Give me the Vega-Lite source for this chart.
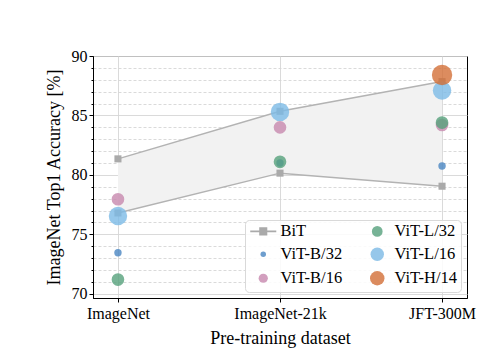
{
  "$schema": "https://vega.github.io/schema/vega-lite/v6.json",
  "width": 374,
  "height": 242,
  "autosize": "none",
  "padding": {"left": 93, "top": 56, "right": 29, "bottom": 64},
  "background": "white",
  "config": {
    "view": {"stroke": "black", "strokeWidth": 1},
    "axis": {
      "domainColor": "black",
      "tickColor": "black",
      "labelColor": "black",
      "labelFont": "Liberation Serif",
      "labelFontSize": 16,
      "titleFont": "Liberation Serif",
      "titleFontSize": 18,
      "titleFontWeight": "normal",
      "titleColor": "black",
      "gridColor": "#d6d6d6",
      "gridWidth": 0.9
    },
    "legend": {
      "labelFont": "Liberation Serif",
      "labelFontSize": 16.5,
      "labelColor": "black"
    }
  },
  "resolve": {"scale": {"color": "independent", "shape": "independent", "size": "independent"}},
  "datasets": {
    "band": [
      {"dataset": "ImageNet", "lo": 76.8, "hi": 81.35},
      {"dataset": "ImageNet-21k", "lo": 80.15, "hi": 85.35},
      {"dataset": "JFT-300M", "lo": 79.05, "hi": 87.85}
    ],
    "bit": [
      {"dataset": "ImageNet", "bound": "upper", "acc": 81.35},
      {"dataset": "ImageNet-21k", "bound": "upper", "acc": 85.35},
      {"dataset": "JFT-300M", "bound": "upper", "acc": 87.85},
      {"dataset": "ImageNet", "bound": "lower", "acc": 76.8},
      {"dataset": "ImageNet-21k", "bound": "lower", "acc": 80.15},
      {"dataset": "JFT-300M", "bound": "lower", "acc": 79.05}
    ],
    "vit": [
      {"dataset": "ImageNet", "model": "ViT-B/32", "acc": 73.45},
      {"dataset": "ImageNet-21k", "model": "ViT-B/32", "acc": 81.0},
      {"dataset": "JFT-300M", "model": "ViT-B/32", "acc": 80.75},
      {"dataset": "ImageNet", "model": "ViT-B/16", "acc": 77.95},
      {"dataset": "ImageNet-21k", "model": "ViT-B/16", "acc": 84.0},
      {"dataset": "JFT-300M", "model": "ViT-B/16", "acc": 84.2},
      {"dataset": "ImageNet", "model": "ViT-L/32", "acc": 71.2},
      {"dataset": "ImageNet-21k", "model": "ViT-L/32", "acc": 81.1},
      {"dataset": "JFT-300M", "model": "ViT-L/32", "acc": 84.4},
      {"dataset": "ImageNet", "model": "ViT-L/16", "acc": 76.55},
      {"dataset": "ImageNet-21k", "model": "ViT-L/16", "acc": 85.3},
      {"dataset": "JFT-300M", "model": "ViT-L/16", "acc": 87.1},
      {"dataset": "JFT-300M", "model": "ViT-H/14", "acc": 88.4}
    ]
  },
  "encoding": {
    "x": {
      "field": "dataset",
      "type": "nominal",
      "sort": null,
      "scale": {"type": "point", "domain": ["ImageNet", "ImageNet-21k", "JFT-300M"], "padding": 0.154},
      "axis": {"labelAngle": 0, "grid": true, "tickSize": 4, "title": "Pre-training dataset", "titlePadding": 8, "labelPadding": 3}
    },
    "y": {
      "field": "acc",
      "type": "quantitative",
      "scale": {"domain": [69.65, 90], "nice": false, "zero": false},
      "axis": {
        "title": "ImageNet Top1 Accuracy [%]",
        "titlePadding": 8,
        "labelFont": "Liberation Serif",
        "titleFont": "Liberation Serif",
        "labelFontSize": 16,
        "titleFontSize": 18,
        "values": [70,71,72,73,74,75,76,77,78,79,80,81,82,83,84,85,86,87,88,89,90],
        "labelExpr": "datum.value % 5 === 0 ? datum.label : ''",
        "grid": true,
        "gridDash": {"condition": {"test": "datum.value % 5 === 0", "value": []}, "value": [3, 2]},
        "tickSize": {"condition": {"test": "datum.value % 5 === 0", "value": 4}, "value": 2}
      }
    }
  },
  "layer": [
    {
      "data": {"name": "band"},
      "mark": {"type": "area", "color": "#f2f2f2", "opacity": 1},
      "encoding": {
        "y": {
          "field": "lo",
          "type": "quantitative",
          "scale": {"domain": [69.65, 90], "nice": false, "zero": false},
          "axis": {
            "title": "ImageNet Top1 Accuracy [%]",
            "titlePadding": 8,
            "labelFont": "Liberation Serif",
            "titleFont": "Liberation Serif",
            "labelFontSize": 16,
            "titleFontSize": 18,
            "values": [70,71,72,73,74,75,76,77,78,79,80,81,82,83,84,85,86,87,88,89,90],
            "labelExpr": "datum.value % 5 === 0 ? datum.label : ''",
            "grid": true,
            "gridDash": {"condition": {"test": "datum.value % 5 === 0", "value": []}, "value": [3, 2]},
            "tickSize": {"condition": {"test": "datum.value % 5 === 0", "value": 4}, "value": 2}
          }
        },
        "y2": {"field": "hi"}
      }
    },
    {
      "data": {"name": "bit"},
      "mark": {"type": "line", "color": "#b3b3b3", "strokeWidth": 1.5},
      "encoding": {
        "detail": {"field": "bound"}
      }
    },
    {
      "data": {"name": "bit"},
      "mark": {"type": "point", "shape": "square", "filled": true, "color": "#aaaaaa", "opacity": 1, "size": 50},
      "encoding": {}
    },
    {
      "data": {"name": "vit"},
      "mark": {"type": "point", "filled": true, "opacity": 0.8},
      "encoding": {
        "color": {
          "field": "model",
          "type": "nominal",
          "scale": {
            "domain": ["ViT-B/32", "ViT-B/16", "ViT-L/32", "ViT-L/16", "ViT-H/14"],
            "range": ["#4a86c2", "#c788ae", "#56a17c", "#7cbae6", "#d36f37"]
          },
          "legend": null
        },
        "size": {
          "field": "model",
          "type": "nominal",
          "scale": {
            "type": "ordinal",
            "domain": ["ViT-B/32", "ViT-B/16", "ViT-L/32", "ViT-L/16", "ViT-H/14"],
            "range": [55, 160, 160, 340, 415]
          },
          "legend": null
        }
      }
    },
    {
      "data": {"name": "vit"},
      "mark": {"type": "point", "filled": true, "opacity": 0},
      "encoding": {
        "color": {
          "field": "model",
          "type": "nominal",
          "scale": {
            "domain": ["BiT", "ViT-B/32", "ViT-B/16", "ViT-L/32", "ViT-L/16", "ViT-H/14"],
            "range": ["#959595", "#4a86c2", "#c788ae", "#56a17c", "#7cbae6", "#d36f37"]
          },
          "legend": {
            "title": null,
            "orient": "bottom-right",
            "offset": 6,
            "columns": 2,
            "columnPadding": 19,
            "rowPadding": 4,
            "padding": 3,
            "fillColor": "rgba(255,255,255,0.85)",
            "strokeColor": "#d9d9d9",
            "cornerRadius": 4,
            "symbolOpacity": 0.8,
            "symbolOffset": 7,
            "labelOffset": 9
          }
        },
        "shape": {
          "field": "model",
          "type": "nominal",
          "scale": {
            "domain": ["BiT", "ViT-B/32", "ViT-B/16", "ViT-L/32", "ViT-L/16", "ViT-H/14"],
            "range": ["M-1.84,-0.11H1.84V0.11H-1.84Z M-0.57,-0.57H0.57V0.57H-0.57Z", "circle", "circle", "circle", "circle", "circle"]
          },
          "legend": {
            "title": null,
            "orient": "bottom-right",
            "offset": 6,
            "columns": 2,
            "columnPadding": 19,
            "rowPadding": 4,
            "padding": 3,
            "fillColor": "rgba(255,255,255,0.85)",
            "strokeColor": "#d9d9d9",
            "cornerRadius": 4,
            "symbolOpacity": 0.8,
            "symbolOffset": 7,
            "labelOffset": 9
          }
        },
        "size": {
          "field": "model",
          "type": "nominal",
          "scale": {
            "type": "ordinal",
            "domain": ["BiT", "ViT-B/32", "ViT-B/16", "ViT-L/32", "ViT-L/16", "ViT-H/14"],
            "range": [200, 30, 85, 115, 180, 210]
          },
          "legend": {
            "title": null,
            "orient": "bottom-right",
            "offset": 6,
            "columns": 2,
            "columnPadding": 19,
            "rowPadding": 4,
            "padding": 3,
            "fillColor": "rgba(255,255,255,0.85)",
            "strokeColor": "#d9d9d9",
            "cornerRadius": 4,
            "symbolOpacity": 0.8,
            "symbolOffset": 7,
            "labelOffset": 9
          }
        }
      }
    }
  ]
}
